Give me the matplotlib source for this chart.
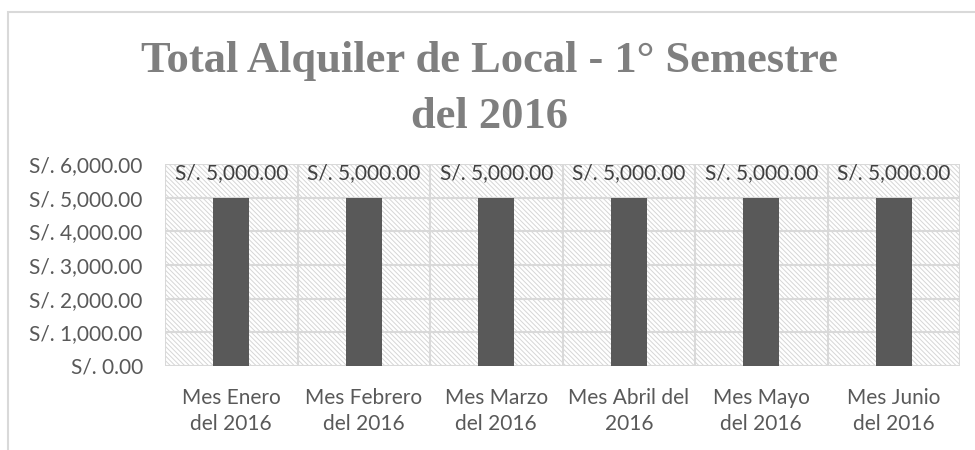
import matplotlib.pyplot as plt
from matplotlib.patches import Rectangle
from matplotlib.ticker import FuncFormatter, MultipleLocator
import numpy as np

# chart data
meses = ['Mes Enero\ndel 2016', 'Mes Febrero\ndel 2016', 'Mes Marzo\ndel 2016',
         'Mes Abril del\n2016', 'Mes Mayo\ndel 2016', 'Mes Junio\ndel 2016']
alquiler = [5000, 5000, 5000, 5000, 5000, 5000]
titulo = 'Total Alquiler de Local - 1° Semestre\ndel 2016'


def soles(v, pos=None):
    return f'S/. {v:,.2f}'


plt.rcParams['font.family'] = ['Lato', 'DejaVu Sans']
plt.rcParams['hatch.color'] = '#d6d6d6'
plt.rcParams['hatch.linewidth'] = 0.7

fig = plt.figure(figsize=(9.75, 4.5), dpi=100)

# outer chart frame (left/top visible only)
frame = Rectangle((8 / 975, -0.05), 1.0, 1 - 12 / 450 + 0.05, transform=fig.transFigure,
                  fill=False, edgecolor='#d9d9d9', linewidth=1.5)
fig.patches.append(frame)

ax = fig.add_axes([165 / 975, 1 - 366 / 450, 795 / 975, 202 / 450])
x = np.arange(len(meses))

# hatched plot area background
ax.add_patch(Rectangle((0, 0), 1, 1, transform=ax.transAxes, facecolor='white',
                       hatch='\\' * 7, edgecolor='#d6d6d6', linewidth=0, zorder=0))

ax.bar(x, alquiler, width=0.27, color='#595959', zorder=3)

ax.set_xlim(-0.5, len(meses) - 0.5)
ax.set_ylim(0, 6000)
ax.yaxis.set_major_locator(MultipleLocator(1000))
ax.yaxis.set_major_formatter(FuncFormatter(soles))

# horizontal gridlines plus vertical separators between categories
ax.grid(axis='y', color='#d9d9d9', linewidth=1.5, zorder=1)
ax.set_xticks(x)
ax.set_xticklabels(meses, fontsize=15, color='#595959', linespacing=1.38)
ax.set_xticks(np.arange(-0.5, len(meses)), minor=True)
ax.grid(axis='x', which='minor', color='#d9d9d9', linewidth=1.5, zorder=1)
ax.tick_params(axis='both', which='both', length=0)
ax.tick_params(axis='x', pad=16)
ax.tick_params(axis='y', labelsize=15, labelcolor='#595959', pad=16)
ax.set_axisbelow(True)
for s in ax.spines.values():
    s.set_visible(False)

for xi, v in zip(x, alquiler):
    ax.text(xi, 5730, soles(v), ha='center', va='center', fontsize=15,
            color='#404040', zorder=4)

fig.text(0.502, 1 - 89 / 450, titulo, ha='center', va='center', fontsize=32,
         fontweight='bold', color='#7f7f7f', family=['Liberation Serif'],
         linespacing=1.5)

fig.savefig('out.png', dpi=100)
